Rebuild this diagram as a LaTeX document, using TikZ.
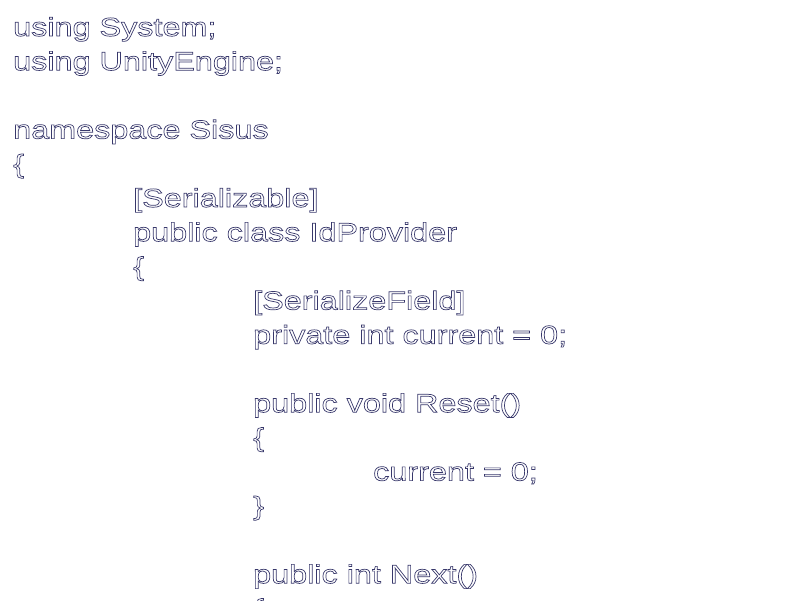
\documentclass[tikz,border=0pt]{standalone}
\usepackage{fontspec}
\setmainfont{Liberation Sans}[FakeStretch=1.245]
\newcommand{\hollow}[1]{\special{pdf:code q 1 Tr 0.7 w 0.22 0.22 0.42 RG}#1\special{pdf:code Q}}
\tikzset{code/.style={anchor=base west, inner sep=0pt, font=\fontsize{26}{34}\selectfont}}
\begin{document}
\begin{tikzpicture}[x=1pt,y=-1pt]
\useasboundingbox (0,0) rectangle (800,600);
\node[code] (l0) at (13,36) {\hollow{using System;}};
\node[code] (l1) at (13,70.2) {\hollow{using UnityEngine;}};
\node[code] (l3) at (13,138.6) {\hollow{namespace Sisus}};
\node[code] (l4) at (13,172.8) {\hollow{\{}};
\node[code] (l5) at (133,207) {\hollow{[Serializable]}};
\node[code] (l6) at (133,241.2) {\hollow{public class IdProvider}};
\node[code] (l7) at (133,275.4) {\hollow{\{}};
\node[code] (l8) at (253,309.6) {\hollow{[SerializeField]}};
\node[code] (l9) at (253,343.8) {\hollow{private int current = 0;}};
\node[code] (l11) at (253,412.2) {\hollow{public void Reset()}};
\node[code] (l12) at (253,446.4) {\hollow{\{}};
\node[code] (l13) at (373,480.6) {\hollow{current = 0;}};
\node[code] (l14) at (253,514.8) {\hollow{\}}};
\node[code] (l16) at (253,583.2) {\hollow{public int Next()}};
\node[code] (l17) at (253,617.4) {\hollow{\{}};
\end{tikzpicture}
\end{document}
